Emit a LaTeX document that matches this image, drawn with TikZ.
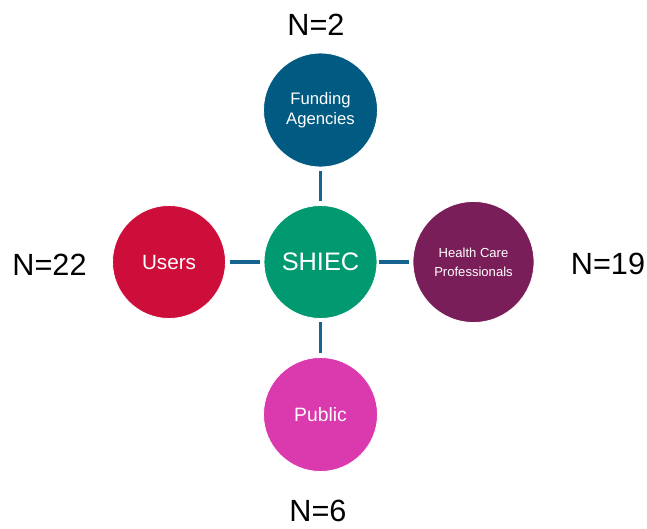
\documentclass[tikz,border=0pt]{standalone}
\usepackage{fontspec}
\setmainfont{Liberation Sans}
\definecolor{cfund}{RGB}{0,90,130}
\definecolor{cshiec}{RGB}{0,153,112}
\definecolor{cusers}{RGB}{206,14,58}
\definecolor{chealth}{RGB}{122,30,89}
\definecolor{cpublic}{RGB}{218,58,174}
\definecolor{cline}{RGB}{24,100,145}
\tikzset{
  bub/.style={circle, draw=white, line width=0.6pt, inner sep=0pt, text=white, align=center},
  conn/.style={draw=cline, line width=2.3pt},
  ncount/.style={font=\fontsize{23}{25}\selectfont, text=black, inner sep=0pt, anchor=base}
}
\begin{document}
\begin{tikzpicture}[x=0.75pt, y=-0.75pt]
\useasboundingbox (0,0) rectangle (647,529);
\node[bub, fill=cfund, minimum size=114*0.75pt, font=\fontsize{12.5}{15}\selectfont] (fund) at (320.5,110) {Funding\\Agencies};
\node[bub, fill=cshiec, minimum size=113*0.75pt, font=\fontsize{19}{22}\selectfont] (shiec) at (320.5,262) {SHIEC};
\node[bub, fill=cusers, minimum size=113*0.75pt, font=\fontsize{15.5}{17}\selectfont] (users) at (169,262) {Users};
\node[bub, fill=chealth, minimum size=121*0.75pt, font=\fontsize{9.8}{14.5}\selectfont] (health) at (473.5,262) {Health Care\\Professionals};
\node[bub, fill=cpublic, minimum size=114*0.75pt, font=\fontsize{14.5}{17}\selectfont] (public) at (320.5,414.5) {Public};
\draw[conn] ([yshift=-3pt]fund.south) -- ([yshift=3pt]shiec.north);
\draw[conn] ([xshift=3pt]users.east) -- ([xshift=-3pt]shiec.west);
\draw[conn] ([xshift=1pt]shiec.east) -- ([xshift=-3pt]health.west);
\draw[conn] ([yshift=-2pt]shiec.south) -- ([yshift=3pt]public.north);
\node[ncount] (n2) at (316,35) {N=2};
\node[ncount] (n22) at (49.5,275) {N=22};
\node[ncount] (n19) at (608,274) {N=19};
\node[ncount] (n6) at (318,521) {N=6};
\end{tikzpicture}
\end{document}
